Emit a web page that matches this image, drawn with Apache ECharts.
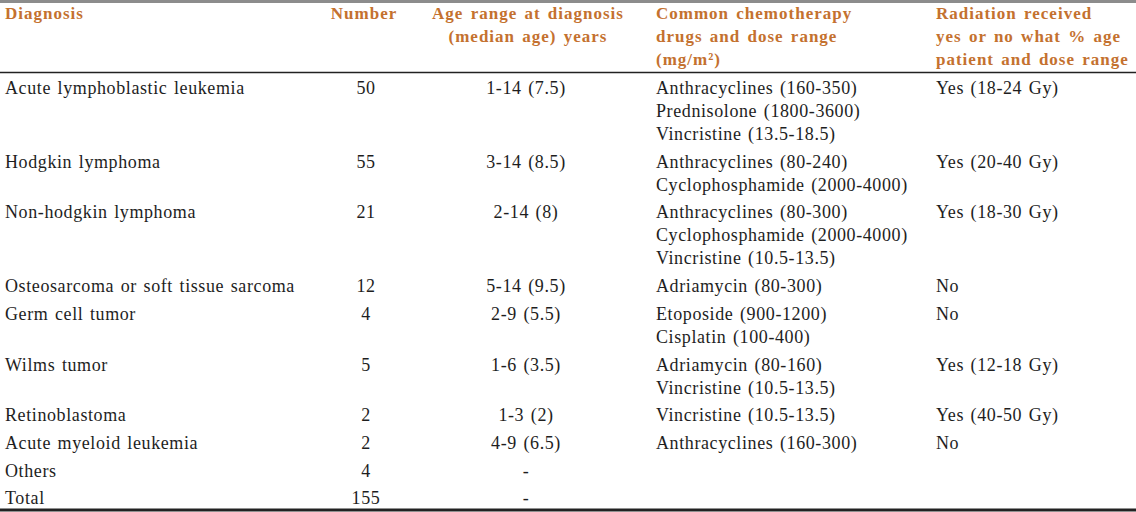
<!DOCTYPE html>
<html>
<head>
<meta charset="utf-8">
<script src="https://cdn.jsdelivr.net/npm/echarts@6/dist/echarts.min.js"></script>
<style>
html,body{margin:0;padding:0;background:#fff;}
#chart{width:1136px;height:512px;}
#chart text{letter-spacing:0.6px;word-spacing:1.5px;}
#chart text.hdr{letter-spacing:1px;word-spacing:2px;}
</style>
</head>
<body>
<div id="chart"></div>
<script>
// ---------- data ----------
const headers = [
  ["Diagnosis"],
  ["Number"],
  ["Age range at diagnosis", "(median age) years"],
  ["Common chemotherapy", "drugs and dose range", "(mg/m\u00B2)"],
  ["Radiation received", "yes or no what % age", "patient and dose range"]
];
const diagnoses = [
  "Acute lymphoblastic leukemia",
  "Hodgkin lymphoma",
  "Non-hodgkin lymphoma",
  "Osteosarcoma or soft tissue sarcoma",
  "Germ cell tumor",
  "Wilms tumor",
  "Retinoblastoma",
  "Acute myeloid leukemia",
  "Others",
  "Total"
];
const numbers = [50, 55, 21, 12, 4, 5, 2, 2, 4, 155];
const ageRanges = [
  "1-14 (7.5)", "3-14 (8.5)", "2-14 (8)", "5-14 (9.5)", "2-9 (5.5)",
  "1-6 (3.5)", "1-3 (2)", "4-9 (6.5)", "-", "-"
];
const chemotherapy = [
  ["Anthracyclines (160-350)", "Prednisolone (1800-3600)", "Vincristine (13.5-18.5)"],
  ["Anthracyclines (80-240)", "Cyclophosphamide (2000-4000)"],
  ["Anthracyclines (80-300)", "Cyclophosphamide (2000-4000)", "Vincristine (10.5-13.5)"],
  ["Adriamycin (80-300)"],
  ["Etoposide (900-1200)", "Cisplatin (100-400)"],
  ["Adriamycin (80-160)", "Vincristine (10.5-13.5)"],
  ["Vincristine (10.5-13.5)"],
  ["Anthracyclines (160-300)"],
  [],
  []
];
const radiation = [
  "Yes (18-24 Gy)", "Yes (20-40 Gy)", "Yes (18-30 Gy)", "No", "No",
  "Yes (12-18 Gy)", "Yes (40-50 Gy)", "No", "", ""
];

// ---------- layout (not data) ----------
const W = 1136, H = 512;
const colX = [5, 366, 526, 656, 936];
const colAlign = ["left", "center", "center", "left", "left"];
const headerColX = [5, 364, 528, 656, 936];
const headerFirstY = 13.5, headerLineH = 23;
const bodyFirstY = 88, bodyLineH = 23, rowGap = 4.7;
const headerColor = "#c4712f";
const bodyColor = "#1e1e1e";
const headerFont = "bold 17px 'Liberation Serif', 'Times New Roman', serif";
const bodyFont = "18px 'Liberation Serif', 'Times New Roman', serif";

// build cell-line items
const cells = [];
headers.forEach((lines, c) => {
  lines.forEach((t, i) => {
    cells.push({ x: headerColX[c], y: headerFirstY + i * headerLineH, text: t, align: colAlign[c], header: true });
  });
});
let rowY = bodyFirstY;
diagnoses.forEach((d, r) => {
  const cols = [[d], [String(numbers[r])], [ageRanges[r]], chemotherapy[r], radiation[r] ? [radiation[r]] : []];
  let maxLines = 1;
  cols.forEach((lines, c) => {
    maxLines = Math.max(maxLines, lines.length);
    lines.forEach((t, i) => {
      cells.push({ x: colX[c], y: rowY + i * bodyLineH, text: t, align: colAlign[c], header: false });
    });
  });
  rowY += maxLines * bodyLineH + rowGap;
});

const chart = echarts.init(document.getElementById('chart'), null, { renderer: 'svg' });
chart.setOption({
  animation: false,
  backgroundColor: '#ffffff',
  grid: { left: 0, right: 0, top: 0, bottom: 0 },
  xAxis: { type: 'value', min: 0, max: W, show: false },
  yAxis: { type: 'value', min: 0, max: H, inverse: true, show: false },
  graphic: [
    { type: 'line', shape: { x1: 0, y1: 1.5, x2: W, y2: 1.5 }, style: { stroke: '#8c8c8c', lineWidth: 3 } },
    { type: 'line', shape: { x1: 0, y1: 72.5, x2: W, y2: 72.5 }, style: { stroke: '#222', lineWidth: 1.3 } },
    { type: 'line', shape: { x1: 0, y1: 510, x2: W, y2: 510 }, style: { stroke: '#222', lineWidth: 3 } }
  ],
  series: [{
    type: 'custom',
    coordinateSystem: 'cartesian2d',
    silent: true,
    data: cells.map(c => [c.x, c.y]),
    renderItem: function (params, api) {
      const c = cells[params.dataIndex];
      const p = api.coord([api.value(0), api.value(1)]);
      return {
        type: 'text',
        x: p[0], y: p[1],
        style: {
          text: c.text,
          fill: c.header ? headerColor : bodyColor,
          font: c.header ? headerFont : bodyFont,
          align: c.align,
          verticalAlign: 'middle'
        }
      };
    }
  }]
});

// mark header texts so CSS can give them their wider tracking
function tagHeaders() {
  document.querySelectorAll('#chart text').forEach(t => {
    const f = (t.getAttribute('fill') || '').toLowerCase();
    const st = t.getAttribute('style') || '';
    if (f === headerColor || st.indexOf('bold') >= 0) t.classList.add('hdr');
  });
}
tagHeaders();
chart.on('finished', tagHeaders);
</script>
</body>
</html>
